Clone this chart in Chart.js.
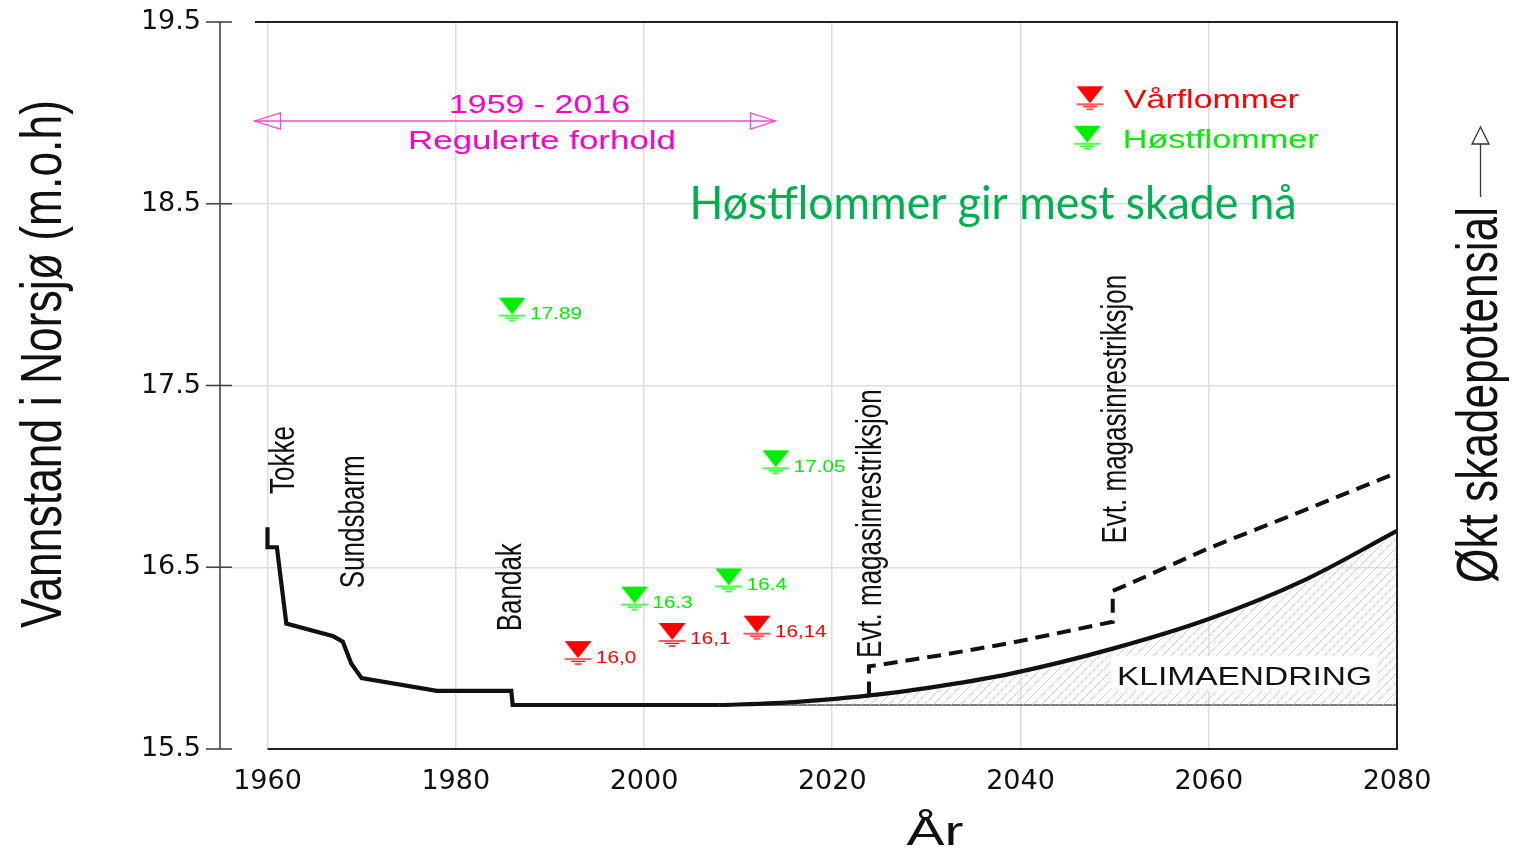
<!DOCTYPE html>
<html><head><meta charset="utf-8">
<script src="https://cdn.jsdelivr.net/npm/chart.js@4"></script>
<style>html,body{margin:0;padding:0;background:#fff;}#wrap{width:1513px;height:850px;position:relative;}</style>
</head><body><div id="wrap"><canvas id="c"></canvas></div>
<script>
// ---- data ----
const histYears  = [1960, 1960, 1961.0, 1962.0, 1967.0, 1968.0, 1968.9, 1970.0, 1978.0, 1985.9, 1986.05, 2000, 2008];
const histLevel  = [16.72, 16.61, 16.61, 16.19, 16.12, 16.09, 15.97, 15.89, 15.82, 15.82, 15.742, 15.742, 15.742];
const climateYears = [2008, 2014, 2019, 2024, 2030, 2039, 2050, 2060, 2070, 2080];
const climateLevel = [15.742, 15.752, 15.77, 15.795, 15.835, 15.915, 16.055, 16.215, 16.425, 16.70];
const restrYears = [2023.9, 2023.9, 2025.3, 2032, 2039.1, 2049.8, 2049.8, 2051.2, 2060, 2070, 2080];
const restrLevel = [15.795, 15.955, 15.965, 16.02, 16.085, 16.20, 16.37, 16.40, 16.605, 16.81, 17.02];
const baseYears = [2008, 2080];
const baseLevel = [15.742, 15.742];
const varYears  = [1993, 2003, 2012];
const varLevel  = [16.0, 16.1, 16.14];
const varLabels = ["16,0", "16,1", "16,14"];
const hostYears  = [1986, 1999, 2009, 2014];
const hostLevel  = [17.89, 16.3, 16.4, 17.05];
const hostLabels = ["17.89", "16.3", "16.4", "17.05"];
const xTicks = [1960, 1980, 2000, 2020, 2040, 2060, 2080];
const stations = ["Tokke", "Sundsbarm", "Bandak", "Evt. magasinrestriksjon", "Evt. magasinrestriksjon"];

// ---- helpers ----
const RED = '#ff0000', GREEN = '#00ee00', PINK = '#ff00cc';
function marker(color){
  const c = document.createElement('canvas'); c.width = 30; c.height = 40;
  const g = c.getContext('2d');
  g.fillStyle = color; g.strokeStyle = color;
  g.beginPath(); g.moveTo(1.5,3); g.lineTo(28.5,3); g.lineTo(15,20); g.closePath(); g.fill();
  g.lineWidth = 1.3;
  [[1.5,28.5,21],[8,22,23.4],[11.5,18.5,26]].forEach(([a,b,y])=>{g.beginPath();g.moveTo(a,y);g.lineTo(b,y);g.stroke();});
  return c;
}
const mRed = marker(RED), mGreen = marker(GREEN);
function hatch(){
  const c = document.createElement('canvas'); c.width = 9; c.height = 9;
  const g = c.getContext('2d'); g.strokeStyle = '#cfcfcf'; g.lineWidth = 1;
  [[-1,1,1,-1],[0,9,9,0],[8,10,10,8]].forEach(([a,b,d,e])=>{g.beginPath();g.moveTo(a,b);g.lineTo(d,e);g.stroke();});
  return g.createPattern(c, 'repeat');
}
function txt(ctx, s, x, y, o){
  ctx.save();
  ctx.font = o.font; ctx.fillStyle = o.color || '#111';
  ctx.textAlign = o.align || 'center'; ctx.textBaseline = o.baseline || 'middle';
  ctx.translate(x, y);
  if (o.rot) ctx.rotate(o.rot);
  let sx = o.sx || 1; const sy = o.sy || 1;
  if (o.width) sx = o.width / ctx.measureText(s).width;
  ctx.scale(sx, sy);
  ctx.fillText(s, 0, 0);
  ctx.restore();
}
const pts = (xs, ys) => xs.map((x,i)=>({x, y: ys[i]}));

const stationPos = [[1961.8,17.09],[1969.2,16.75],[1985.9,16.39],[2024.2,16.74],[2050.2,17.37]];

const overlay = {
  id: 'overlay',
  afterDraw(chart){
    const ctx = chart.ctx, xs = chart.scales.x, ys = chart.scales.y;
    const ca = chart.chartArea;
    const X = v => xs.getPixelForValue(v), Y = v => ys.getPixelForValue(v);
    // frame
    ctx.save();
    ctx.strokeStyle = '#222'; ctx.lineWidth = 2;
    ctx.beginPath();
    ctx.moveTo(255, ca.top); ctx.lineTo(ca.right, ca.top); ctx.lineTo(ca.right, ca.bottom); ctx.lineTo(X(1960), ca.bottom);
    ctx.stroke();
    // left y axis
    ctx.strokeStyle = '#444'; ctx.lineWidth = 1.6;
    ctx.beginPath(); ctx.moveTo(220, ca.top); ctx.lineTo(220, ca.bottom); ctx.stroke();
    ys.ticks.forEach(t => { const y = Y(t.value); ctx.beginPath(); ctx.moveTo(206, y); ctx.lineTo(232, y); ctx.stroke(); });
    ctx.restore();

    // axis titles
    txt(ctx, 'Vannstand i Norsjø (m.o.h)', 45, 364, {font:'58px "Liberation Sans Narrow", "Liberation Sans", sans-serif', rot:-Math.PI/2, width:528, color:'#111'});
    txt(ctx, 'Økt skadepotensial', 1481, 395, {font:'58px "Liberation Sans Narrow", "Liberation Sans", sans-serif', rot:-Math.PI/2, width:376, color:'#111'});
    txt(ctx, 'År', 935, 845, {font:'40px "Liberation Sans", sans-serif', baseline:'alphabetic', width:57, color:'#111'});
    // right arrow
    ctx.save(); ctx.strokeStyle = '#333'; ctx.lineWidth = 1.3;
    ctx.beginPath(); ctx.moveTo(1480.5, 197); ctx.lineTo(1480.5, 144); ctx.stroke();
    ctx.beginPath(); ctx.moveTo(1480.5, 127); ctx.lineTo(1472, 144); ctx.lineTo(1489, 144); ctx.closePath(); ctx.stroke();
    ctx.restore();

    // pink period annotation
    ctx.save(); ctx.strokeStyle = '#ff44d0'; ctx.lineWidth = 1.3;
    const ay = 121, ax1 = 254.5, ax2 = 775.5;
    ctx.beginPath(); ctx.moveTo(ax1, ay); ctx.lineTo(ax2, ay); ctx.stroke();
    ctx.beginPath(); ctx.moveTo(ax1, ay); ctx.lineTo(ax1+26, ay-8); ctx.lineTo(ax1+26, ay+8); ctx.closePath(); ctx.stroke();
    ctx.beginPath(); ctx.moveTo(ax2, ay); ctx.lineTo(ax2-25, ay-8); ctx.lineTo(ax2-25, ay+8); ctx.closePath(); ctx.stroke();
    ctx.restore();
    txt(ctx, '1959 - 2016', 539.5, 113, {font:'25px "Liberation Sans", sans-serif', baseline:'alphabetic', width:181, color:PINK});
    txt(ctx, 'Regulerte forhold', 542, 149.3, {font:'25px "Liberation Sans", sans-serif', baseline:'alphabetic', width:268, color:PINK});

    // legend
    ctx.drawImage(mRed, 1090-15, 103.3-20);
    ctx.drawImage(mGreen, 1087.3-15, 142.7-20);
    txt(ctx, 'Vårflommer', 1124, 108.3, {font:'25px "Liberation Sans", sans-serif', align:'left', baseline:'alphabetic', width:175, color:RED});
    txt(ctx, 'Høstflommer', 1122.7, 147.5, {font:'25px "Liberation Sans", sans-serif', align:'left', baseline:'alphabetic', width:196, color:GREEN});

    // headline
    txt(ctx, 'Høstflommer gir mest skade nå', 993, 219, {font:'46px Lato, "Open Sans", sans-serif', baseline:'alphabetic', width:607, color:'#00b050'});

    // station labels
    stations.forEach((s,i)=>{
      txt(ctx, s, X(stationPos[i][0]), Y(stationPos[i][1]), {font:'26px "Liberation Sans", sans-serif', rot:-Math.PI/2, sy:1.35, color:'#111'});
    });

    // marker value labels
    const lf = '16px "Liberation Sans", sans-serif';
    varYears.forEach((yr,i)=> txt(ctx, varLabels[i], X(yr)+18, Y(varLevel[i]), {font:lf, align:'left', sx:1.29, color:RED}));
    hostYears.forEach((yr,i)=> txt(ctx, hostLabels[i], X(yr)+18, Y(hostLevel[i]), {font:lf, align:'left', sx:1.29, color:GREEN}));

    // KLIMAENDRING
    ctx.save(); ctx.fillStyle = '#fff'; ctx.fillRect(1110, 656, 268, 35); ctx.restore();
    txt(ctx, 'KLIMAENDRING', 1244.5, 685, {font:'26px "Liberation Sans", sans-serif', baseline:'alphabetic', width:255, color:'#111'});
  }
};

Chart.defaults.font.family = '"DejaVu Sans", sans-serif';
new Chart(document.getElementById('c'), {
  type: 'line',
  data: {
    datasets: [
      {label:'Vårflommer', type:'scatter', data: pts(varYears, varLevel), pointStyle: mRed, pointRadius: 14, showLine:false},
      {label:'Høstflommer', type:'scatter', data: pts(hostYears, hostLevel), pointStyle: mGreen, pointRadius: 14, showLine:false},
      {label:'Regulerte forhold', data: pts(histYears, histLevel), borderColor:'#111', borderWidth:4.2, pointRadius:0, tension:0, borderJoinStyle:'miter', fill:false},
      {label:'Evt. magasinrestriksjon', data: pts(restrYears, restrLevel), borderColor:'#111', borderWidth:4, borderDash:[14,8], pointRadius:0, tension:0, borderJoinStyle:'miter', fill:false},
      {label:'Klimaendring', data: pts(climateYears, climateLevel), borderColor:'#111', borderWidth:4.2, pointRadius:0, cubicInterpolationMode:'monotone', fill:{value:15.742}, backgroundColor: hatch()},
      {label:'Referanse', data: pts(baseYears, baseLevel), borderColor:'#555', borderWidth:1.5, pointRadius:0, fill:false}
    ]
  },
  options: {
    responsive: true, maintainAspectRatio: false, animation: false,
    layout: {padding: {left:0, right:116, top:0, bottom:0}},
    plugins: {legend:{display:false}, tooltip:{enabled:false}},
    scales: {
      x: {
        type:'linear', min:1956.23, max:2080,
        afterBuildTicks: s => { s.ticks = xTicks.map(v => ({value:v})); },
        afterFit: s => { s.height = 101; },
        ticks: {padding:17, color:'#111', font:{size:27}, maxRotation:0, autoSkip:false, callback: v => String(v)},
        grid: {drawTicks:false, color:'#dddddd', lineWidth:1.5},
        border: {display:false}
      },
      y: {
        min:15.5, max:19.5,
        afterFit: s => { s.width = 232; s.paddingTop = 22; s.paddingBottom = 0; },
        ticks: {stepSize:1, padding:31, color:'#111', font:{size:27}, callback: v => Number(v).toFixed(1)},
        grid: {drawTicks:false, lineWidth:1.5, color: c => (c.tick && (Math.abs(c.tick.value-15.5)<1e-6 || Math.abs(c.tick.value-19.5)<1e-6)) ? 'rgba(0,0,0,0)' : '#dddddd'},
        border: {display:false}
      }
    }
  },
  plugins: [overlay]
});
</script>
</body></html>
